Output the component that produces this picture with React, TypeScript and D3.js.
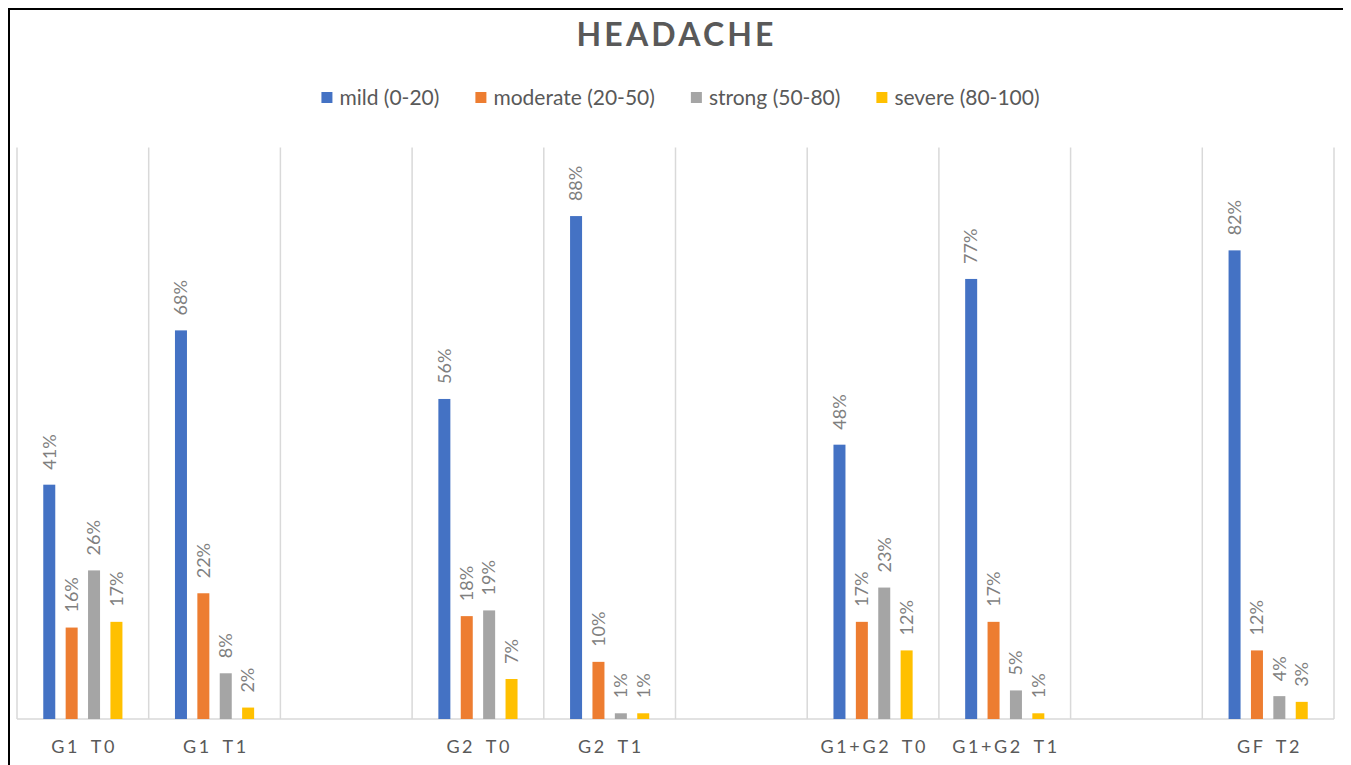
import React, { useEffect, useRef } from "react";
import * as d3 from "d3";

// Category slots along the x axis; empty strings are spacer columns.
const categories: string[] = [
  "G1 T0",
  "G1 T1",
  "",
  "G2 T0",
  "G2 T1",
  "",
  "G1+G2 T0",
  "G1+G2 T1",
  "",
  "GF T2",
];

const seriesNames: string[] = [
  "mild (0-20)",
  "moderate (20-50)",
  "strong (50-80)",
  "severe (80-100)",
];

const seriesColors: string[] = ["#4472C4", "#ED7D31", "#A5A5A5", "#FFC000"];

// Percent values per series, aligned with categories (null = spacer column).
const mild: (number | null)[] = [41, 68, null, 56, 88, null, 48, 77, null, 82];
const moderate: (number | null)[] = [16, 22, null, 18, 10, null, 17, 17, null, 12];
const strong: (number | null)[] = [26, 8, null, 19, 1, null, 23, 5, null, 4];
const severe: (number | null)[] = [17, 2, null, 7, 1, null, 12, 1, null, 3];

const yDomain: [number, number] = [0, 100];

const W = 1337;
const H = 757;
const FONT = "Lato, 'Open Sans', sans-serif";

export default function App() {
  const ref = useRef<SVGSVGElement | null>(null);

  useEffect(() => {
    const svg = d3.select(ref.current);
    svg.selectAll("*").remove();

    // work in page coordinates (svg sits at the 8px body margin)
    const root = svg.append("g").attr("transform", "translate(-8,-8)");

    const left = 17;
    const right = 1334;
    const top = 147.5;
    const bottom = 719;

    // outer frame
    svg
      .append("rect")
      .attr("x", 1)
      .attr("y", 1)
      .attr("width", W - 2)
      .attr("height", H + 40)
      .attr("fill", "none")
      .attr("stroke", "#000")
      .attr("stroke-width", 2);

    // title
    root
      .append("text")
      .attr("x", 675 + 1.6)
      .attr("y", 46)
      .attr("text-anchor", "middle")
      .attr("font-family", FONT)
      .attr("font-weight", 700)
      .attr("font-size", 32)
      .attr("letter-spacing", 3.2)
      .attr("fill", "#595959")
      .text("HEADACHE");

    // legend
    const legend = root.append("g");
    const items = legend
      .selectAll("g.item")
      .data(seriesNames)
      .enter()
      .append("g")
      .attr("class", "item");
    items
      .append("rect")
      .attr("width", 11)
      .attr("height", 11)
      .attr("y", -6)
      .attr("fill", (_d, i) => seriesColors[i]);
    items
      .append("text")
      .attr("x", 18)
      .attr("dy", "0.35em")
      .attr("font-family", FONT)
      .attr("font-size", 21)
      .attr("fill", "#595959")
      .text((d) => d);
    const widths: number[] = [];
    items.each(function () {
      const t = d3.select(this).select("text").node() as SVGTextElement;
      widths.push(18 + t.getComputedTextLength());
    });
    const gap = 36;
    const total = d3.sum(widths) + gap * (widths.length - 1);
    let cursor = 680.5 - total / 2;
    items.attr("transform", (_d, i) => {
      const x = cursor;
      cursor += widths[i] + gap;
      return `translate(${x},98)`;
    });

    // scales
    const x = d3
      .scaleBand<number>()
      .domain(categories.map((_c, i) => i))
      .range([left, right])
      .paddingInner(0)
      .paddingOuter(0);
    const bw = x.bandwidth();
    const groupPad = bw * 0.16;
    const xs = d3
      .scaleBand<number>()
      .domain(seriesNames.map((_s, i) => i))
      .range([groupPad, bw - groupPad]);
    const barW = 12;
    const y = d3.scaleLinear().domain(yDomain).range([bottom, top]);

    // vertical gridlines at category boundaries
    const bounds = categories.map((_c, i) => x(i)!).concat([right]);
    root
      .append("g")
      .selectAll("line")
      .data(bounds)
      .enter()
      .append("line")
      .attr("x1", (d) => d)
      .attr("x2", (d) => d)
      .attr("y1", top)
      .attr("y2", bottom)
      .attr("stroke", "#d9d9d9")
      .attr("stroke-width", 1.5);

    // baseline
    root
      .append("line")
      .attr("x1", left)
      .attr("x2", right)
      .attr("y1", bottom)
      .attr("y2", bottom)
      .attr("stroke", "#d9d9d9")
      .attr("stroke-width", 1.5);

    const series = [mild, moderate, strong, severe];
    const points: { c: number; s: number; v: number }[] = [];
    series.forEach((vals, s) =>
      vals.forEach((v, c) => {
        if (v !== null) points.push({ c, s, v });
      })
    );

    const cx = (d: { c: number; s: number }) =>
      x(d.c)! + xs(d.s)! + xs.bandwidth() / 2;

    root
      .append("g")
      .selectAll("rect")
      .data(points)
      .enter()
      .append("rect")
      .attr("x", (d) => cx(d) - barW / 2)
      .attr("width", barW)
      .attr("y", (d) => y(d.v))
      .attr("height", (d) => bottom - y(d.v))
      .attr("fill", (d) => seriesColors[d.s]);

    // value labels, rotated, above each bar
    root
      .append("g")
      .selectAll("text")
      .data(points)
      .enter()
      .append("text")
      .attr(
        "transform",
        (d) => `translate(${cx(d)},${y(d.v) - 15}) rotate(-90)`
      )
      .attr("dy", "0.35em")
      .attr("font-family", FONT)
      .attr("font-size", 18)
      .attr("fill", "#7f7f7f")
      .text((d) => `${d.v}%`);

    // category labels
    const ls = 2.6;
    root
      .append("g")
      .selectAll("text")
      .data(categories)
      .enter()
      .append("text")
      .attr("x", (_d, i) => x(i)! + bw / 2 + ls / 2)
      .attr("y", 753)
      .attr("text-anchor", "middle")
      .attr("font-family", FONT)
      .attr("font-size", 18)
      .attr("letter-spacing", ls)
      .attr("word-spacing", 4)
      .attr("fill", "#595959")
      .text((d) => d);
  }, []);

  return (
    <svg
      ref={ref}
      width={W}
      height={H}
      style={{ display: "block", overflow: "hidden", background: "#fff" }}
    />
  );
}
